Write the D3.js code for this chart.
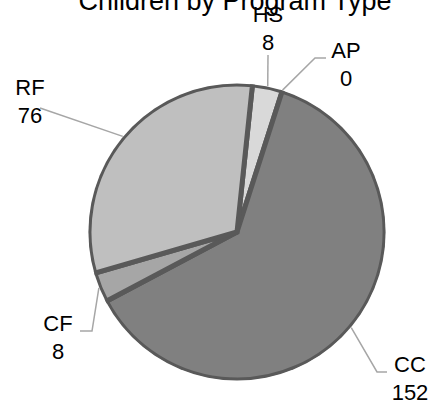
<!DOCTYPE html>
<html>
<head>
<meta charset="utf-8">
<script src="https://cdn.jsdelivr.net/npm/d3@7/dist/d3.min.js"></script>
<style>
  html, body { margin: 0; padding: 0; background: #fff; }
  svg { display: block; font-family: "Liberation Sans", Arial, sans-serif; }
</style>
</head>
<body>
<div id="chart"></div>
<script>
// Program types and child counts, in slice order (clockwise)
const categories = ["HS", "AP", "CC", "CF", "RF"];
const counts = [8, 0, 152, 8, 76];
const fills = ["#d9d9d9", "#8c8c8c", "#808080", "#a6a6a6", "#bfbfbf"];
const title = "Children by Program Type";

// Label placement: leader elbow / end points and text anchor for each slice
const labelLayout = {
  HS: { path: [[268, 55]], text: [268, 22] },
  AP: { path: [[315, 58], [326, 58]], text: [346, 58] },
  CC: { path: [[377, 372], [387, 372]], text: [410, 372] },
  CF: { path: [[92, 331], [80, 331]], text: [58, 331] },
  RF: { path: [[40, 108]], text: [30, 95] }
};

const W = 434, H = 404;
const cx = 237, cy = 232, r = 148;
const startRad = 6 * Math.PI / 180;

const svg = d3.select("#chart").append("svg")
  .attr("width", W).attr("height", H);

svg.append("defs").append("clipPath").attr("id", "pieClip")
  .append("circle").attr("cx", cx).attr("cy", cy).attr("r", r + 0.6);

const data = categories.map((c, i) => ({ cat: c, value: counts[i], fill: fills[i] }));

const pie = d3.pie().value(d => d.value).sort(null)
  .startAngle(startRad).endAngle(startRad + 2 * Math.PI);
const arcs = pie(data);
const arc = d3.arc().innerRadius(0).outerRadius(r);

const g = svg.append("g").attr("clip-path", "url(#pieClip)")
  .append("g").attr("transform", `translate(${cx},${cy})`);

g.selectAll("path.slice").data(arcs.filter(a => a.value > 0)).join("path")
  .attr("class", "slice")
  .attr("d", arc)
  .attr("fill", d => d.data.fill)
  .attr("stroke", "#595959")
  .attr("stroke-width", 5)
  .attr("stroke-linejoin", "miter");

// Leader lines from slice edge midpoint to labels
const edge = d3.arc().innerRadius(r + 1).outerRadius(r + 1);
arcs.forEach(a => {
  const lay = labelLayout[a.data.cat];
  const mid = (a.startAngle + a.endAngle) / 2;
  const p0 = [cx + (r + 1) * Math.sin(mid), cy - (r + 1) * Math.cos(mid)];
  svg.append("polyline")
    .attr("points", [p0].concat(lay.path).map(p => p.join(",")).join(" "))
    .attr("fill", "none")
    .attr("stroke", "#a6a6a6")
    .attr("stroke-width", 1.5);
});

// Category name and value labels
arcs.forEach(a => {
  const lay = labelLayout[a.data.cat];
  const t = svg.append("text")
    .attr("x", lay.text[0]).attr("y", lay.text[1])
    .attr("text-anchor", "middle")
    .attr("font-size", 22)
    .attr("fill", "#000");
  t.append("tspan").attr("x", lay.text[0]).text(a.data.cat);
  t.append("tspan").attr("x", lay.text[0]).attr("dy", 27.5).text(a.value);
});

svg.append("text")
  .attr("x", 235).attr("y", 9.5)
  .attr("text-anchor", "middle")
  .attr("font-size", 27)
  .attr("fill", "#000")
  .text(title);
</script>
</body>
</html>
